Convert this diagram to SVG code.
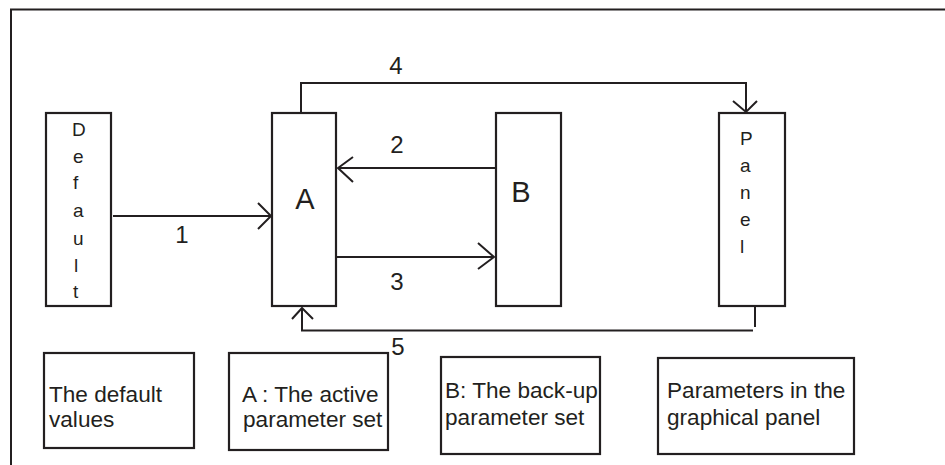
<svg xmlns="http://www.w3.org/2000/svg" width="945" height="465" viewBox="0 0 945 465">
<style>
.box{fill:#fff;stroke:#231f20;stroke-width:2.2}
.ln{fill:none;stroke:#231f20;stroke-width:2}
.t{font-family:"Liberation Sans",Arial,sans-serif;fill:#231f20}
.v{font-size:19px}
.n{font-size:24px;text-anchor:middle}
.big{font-size:29px;text-anchor:middle}
.d{font-size:22.6px}
</style>
<rect x="0" y="0" width="945" height="465" fill="#fff"/>
<path class="ln" d="M11,465 V9.5 H945" stroke-width="2.5"/>
<g id="default">
<rect class="box" x="46" y="113" width="65" height="193"/>
<text class="t v" x="72" y="136">D</text>
<text class="t v" x="73" y="163">e</text>
<text class="t v" x="73" y="189">f</text>
<text class="t v" x="73" y="217">a</text>
<text class="t v" x="73" y="245">u</text>
<text class="t v" x="74" y="272">l</text>
<text class="t v" x="73" y="298">t</text>
</g>
<g id="nodeA">
<rect class="box" x="272" y="113" width="64" height="193"/>
<text class="t big" x="305" y="209">A</text>
</g>
<g id="nodeB">
<rect class="box" x="496" y="113" width="65" height="193"/>
<text class="t big" x="521" y="202">B</text>
</g>
<g id="panel">
<rect class="box" x="719" y="113" width="66" height="193"/>
<text class="t v" x="740" y="145">P</text>
<text class="t v" x="740" y="172">a</text>
<text class="t v" x="740" y="199">n</text>
<text class="t v" x="740" y="226">e</text>
<text class="t v" x="740" y="253">l</text>
</g>
<g id="connectors">
<path class="ln" d="M113,216 H271"/>
<path class="ln" d="M258,203 L271,216 L258,229"/>
<path class="ln" d="M495,168 H338"/>
<path class="ln" d="M353,157 L338,168 L353,182"/>
<path class="ln" d="M337,257 H494"/>
<path class="ln" d="M478,243 L494,257 L478,269"/>
<path class="ln" d="M301,113 V83 H746 V112"/>
<path class="ln" d="M733,101 L746,112 L757,101"/>
<path class="ln" d="M755,306 V327 M753,330.5 H302 V308"/>
<path class="ln" d="M292,319 L302,308 L313,319"/>
</g>
<g id="labels">
<text class="t n" x="182" y="243">1</text>
<text class="t n" x="397" y="153">2</text>
<text class="t n" x="397" y="290">3</text>
<text class="t n" x="396" y="74">4</text>
<text class="t n" x="398" y="355">5</text>
</g>
<g id="legend-default">
<rect class="box" x="44" y="353" width="150" height="95"/>
<text class="t d" x="49" y="402">The default</text>
<text class="t d" x="49" y="427">values</text>
</g>
<g id="legend-a">
<rect class="box" x="229" y="353" width="159" height="97"/>
<text class="t d" x="242" y="402">A : The active</text>
<text class="t d" x="243" y="427">parameter set</text>
</g>
<g id="legend-b">
<rect class="box" x="441" y="357" width="159" height="97"/>
<text class="t d" x="445" y="398">B: The back-up</text>
<text class="t d" x="445" y="425">parameter set</text>
</g>
<g id="legend-panel">
<rect class="box" x="658" y="358" width="196" height="96"/>
<text class="t d" x="667" y="398">Parameters in the</text>
<text class="t d" x="667" y="425">graphical panel</text>
</g>
</svg>
